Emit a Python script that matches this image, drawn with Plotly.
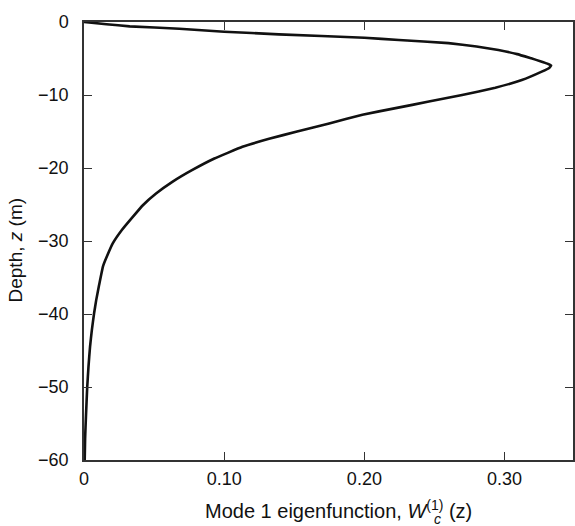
import plotly.graph_objects as go

# Mode 1 eigenfunction values
depth_m = [0, -0.3, -0.6, -0.92, -1.33, -1.69, -2.15, -2.47, -2.9, -3.35, -3.84, -4.4, -4.98,
           -5.4, -5.7, -5.95, -6.3, -6.8, -7.95, -9.0, -10.0, -10.9, -11.8, -12.7, -13.9,
           -15.0, -16.0, -17.1, -18.7, -20.3, -21.9, -23.5, -25.1, -26.7, -28.5, -30.3,
           -32.0, -33.5, -36.0, -38.1, -39.9, -42.2, -44.5, -47.2, -50, -54, -57, -60]
w_mode1 = [0, 0.016, 0.0326, 0.068, 0.1, 0.139, 0.2, 0.2246, 0.260, 0.280, 0.2956, 0.309,
           0.319, 0.326, 0.3305, 0.3332, 0.3318, 0.3265, 0.3123, 0.2934, 0.2697, 0.246,
           0.2223, 0.1986, 0.1749, 0.152, 0.132, 0.113, 0.093, 0.077, 0.063, 0.0514, 0.042,
           0.0348, 0.027, 0.0206, 0.0166, 0.0135, 0.0108, 0.0087, 0.0072, 0.0056, 0.0043,
           0.0032, 0.0023, 0.0014, 0.0008, 0.0005]

x_tickvals = [0, 0.1, 0.2, 0.3]
x_ticktext = ["0", "0.10", "0.20", "0.30"]
y_tickvals = [0, -10, -20, -30, -40, -50, -60]
y_ticktext = ["0", "\u221210", "\u221220", "\u221230", "\u221240", "\u221250", "\u221260"]

x_title = "Mode 1 eigenfunction, <i>W</i><sup>(1)</sup> (z)"
x_title_sub = "<i>c</i>"
y_title = "Depth, <i>z</i> (m)"

font_family = "Liberation Sans, Arial, Helvetica, sans-serif"
ink = "#111111"
axis_col = "#333333"

fig = go.Figure()
fig.add_trace(go.Scatter(
    x=w_mode1, y=depth_m, mode="lines",
    line=dict(color=ink, width=2.6, shape="spline", smoothing=0.3),
    showlegend=False, hoverinfo="skip",
))

axis_common = dict(
    ticks="inside", ticklen=8, tickwidth=1.3, tickcolor=axis_col,
    showline=True, linecolor=axis_col, linewidth=1.5, mirror="ticks",
    showgrid=False, zeroline=False, tickfont=dict(size=18, color=ink),
)

fig.update_layout(
    width=575, height=526,
    margin=dict(l=84, r=0, t=22, b=66),
    paper_bgcolor="white", plot_bgcolor="white",
    font=dict(family=font_family, size=18, color=ink),
    xaxis=dict(range=[0, 0.3488], tickvals=x_tickvals, ticktext=x_ticktext,
               ticklabelstandoff=2, **axis_common),
    yaxis=dict(range=[-60, 0], tickvals=y_tickvals, ticktext=y_ticktext,
               ticklabelstandoff=10, **axis_common),
    annotations=[
        dict(text=x_title, xref="paper", yref="paper", x=0.521, y=-0.113,
             xanchor="center", yanchor="middle", showarrow=False,
             font=dict(size=20, color=ink)),
        dict(text=x_title_sub, xref="paper", yref="paper", x=0.722, y=-0.135,
             xanchor="center", yanchor="middle", showarrow=False,
             font=dict(size=14, color=ink)),
        dict(text=y_title, xref="paper", yref="paper", x=-0.1405, y=0.479,
             xanchor="center", yanchor="middle", textangle=-90, showarrow=False,
             font=dict(size=19, color=ink)),
    ],
)

fig.write_html("out.html", config={"displayModeBar": False},
               post_script="document.body.style.margin='0';document.body.style.overflow='hidden';")
